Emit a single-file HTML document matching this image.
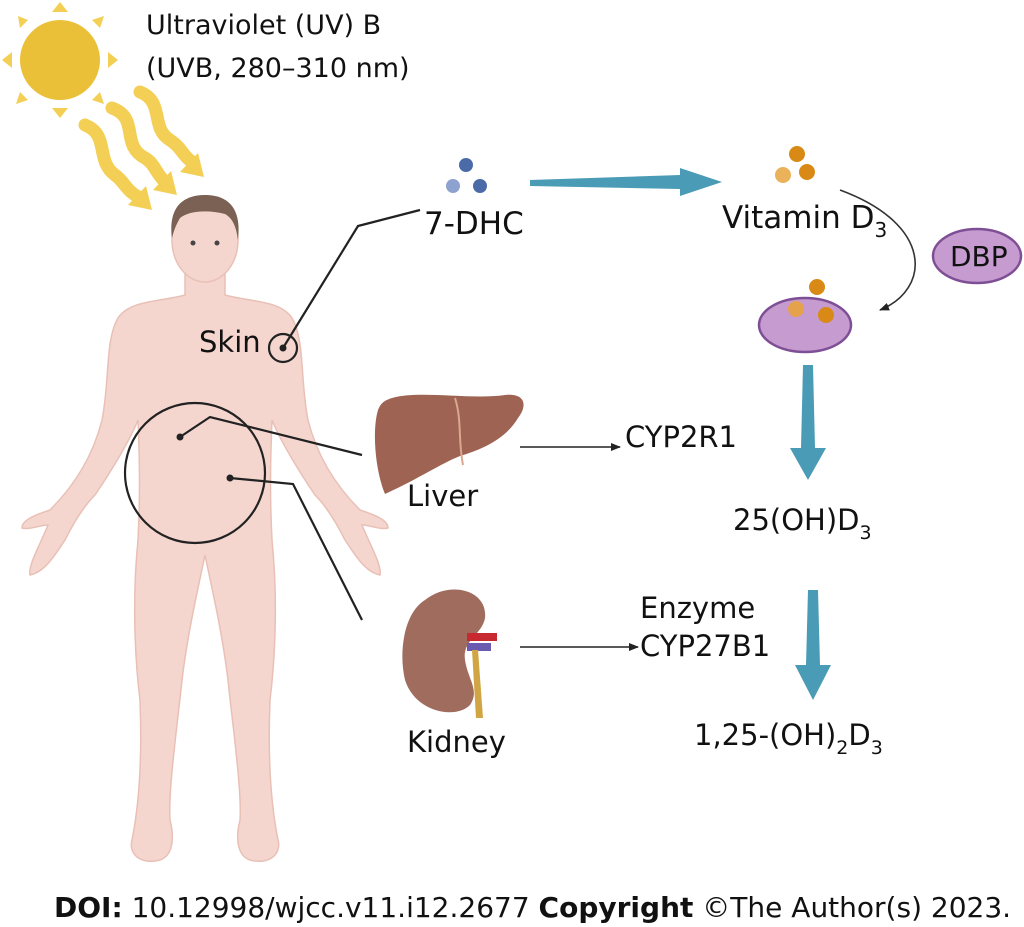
<!DOCTYPE html>
<html><head><meta charset="utf-8"><style>
html,body{margin:0;padding:0;background:#fff;}
svg{display:block;}
text{font-family:"DejaVu Sans","Liberation Sans",sans-serif;fill:#111;}
</style></head><body>
<svg width="1024" height="927" viewBox="0 0 1024 927" xmlns="http://www.w3.org/2000/svg">
<defs>
<marker id="ah" markerWidth="10" markerHeight="10" refX="9" refY="5" orient="auto" markerUnits="userSpaceOnUse"><path d="M0,1 L10,5 L0,9 Z" fill="#222"/></marker>
</defs>
<!-- sun -->
<g fill="#f3cf55">
<circle cx="60" cy="60" r="40" fill="#ebc039"/>
<polygon points="52,12 68,12 60,2"/>
<polygon points="52,108 68,108 60,118"/>
<polygon points="12,52 12,68 2,60"/>
<polygon points="108,52 108,68 118,60"/>
<polygon points="20,28 28,20 18,16" />
<polygon points="92,20 100,28 104,16"/>
<polygon points="20,92 28,100 16,104"/>
<polygon points="100,92 92,100 104,104"/>
</g>
<g fill="none" stroke="#f3cf55" stroke-width="13" stroke-linecap="round">
<path d="M85,125 C110,135 95,160 115,175 C125,182 125,190 140,198"/>
<path d="M112,108 C140,118 120,145 145,158 C155,164 155,172 165,182"/>
<path d="M140,92 C165,102 150,128 170,140 C182,148 182,155 192,162"/>
</g>
<g fill="#f3cf55">
<polygon points="128,205 152,210 146,186"/>
<polygon points="153,190 177,195 171,171"/>
<polygon points="180,172 204,177 198,153"/>
</g>
<!-- body -->
<g fill="#f4d6cf" stroke="#e9c0b6" stroke-width="1.5">
<path d="M185,265 L185,295 C160,302 130,300 118,318 C105,340 110,380 102,420 C92,460 70,490 50,510 C35,515 22,520 22,528 C30,530 40,525 48,525 C40,545 28,565 30,575 C45,572 55,555 65,540 C75,520 85,505 95,495 C112,470 130,440 138,420 C140,470 140,500 138,540 C132,600 135,660 140,700 C142,750 140,800 132,840 C128,855 142,865 160,860 C172,856 175,840 170,820 C168,790 178,720 182,680 C188,630 200,580 205,555 C210,580 222,630 228,680 C232,720 242,790 240,820 C235,840 238,856 250,860 C268,865 282,855 278,840 C270,800 268,750 270,700 C275,660 278,600 272,540 C270,500 270,470 272,420 C280,440 298,470 315,495 C325,505 335,520 345,540 C355,555 365,572 380,575 C382,565 370,545 362,525 C370,525 380,530 388,528 C388,520 375,515 360,510 C340,490 318,460 308,420 C300,380 305,340 292,318 C280,300 250,302 225,295 L225,265 Z"/>
<ellipse cx="205" cy="240" rx="33" ry="42"/>
</g>
<path d="M172,238 C168,205 185,195 205,195 C228,195 242,208 238,240 C236,225 232,218 225,214 C210,210 190,210 180,218 C176,225 174,230 172,238 Z" fill="#7a6153"/>
<circle cx="193" cy="243" r="2.5" fill="#444"/><circle cx="217" cy="243" r="2.5" fill="#444"/>
<!-- connectors -->
<g stroke="#222" stroke-width="2.2" fill="none">
<circle cx="283" cy="348" r="14"/>
<polyline points="283,348 358,226 420,210"/>
<circle cx="195" cy="473" r="70"/>
<polyline points="180,437 210,417 362,455"/>
<polyline points="230,478 293,484 362,620"/>
<line x1="520" y1="447" x2="620" y2="447" marker-end="url(#ah)" stroke-width="1.6"/>
<line x1="520" y1="647" x2="638" y2="647" marker-end="url(#ah)" stroke-width="1.6"/>
<path d="M840,190 C935,225 930,290 880,310" stroke-width="1.6" stroke="#333" marker-end="url(#ah)"/>
</g>
<circle cx="283" cy="348" r="3.5" fill="#222"/>
<circle cx="180" cy="437" r="3.5" fill="#222"/>
<circle cx="230" cy="478" r="3.5" fill="#222"/>
<!-- liver -->
<path d="M392,398 C420,390 470,400 505,395 C525,393 528,405 518,418 C505,440 480,450 460,456 C440,464 420,478 385,494 C375,470 372,430 378,410 C381,402 386,400 392,398 Z" fill="#9e6353"/>
<path d="M455,398 C462,420 458,440 463,465" stroke="#d9a88e" stroke-width="2" fill="none"/>
<!-- kidney -->
<path d="M425,600 C450,580 488,590 485,618 C482,635 462,640 465,660 C468,680 480,690 470,705 C455,720 415,712 405,680 C398,650 405,612 425,600 Z" fill="#a06c5e"/>
<rect x="467" y="633" width="30" height="8" fill="#c8282f"/>
<rect x="467" y="643" width="24" height="8" fill="#6a5ab0"/>
<path d="M472,650 L478,650 L483,718 L476,718 Z" fill="#d1a543"/>
<!-- molecules -->
<g>
<circle cx="466" cy="165" r="7" fill="#4a6aa8"/>
<circle cx="453" cy="186" r="7" fill="#8ea2cf"/>
<circle cx="480" cy="186" r="7" fill="#4a6aa8"/>
<circle cx="797" cy="154" r="8" fill="#d98a16"/>
<circle cx="783" cy="175" r="8" fill="#eab25a"/>
<circle cx="807" cy="172" r="8" fill="#d98a16"/>
</g>
<ellipse cx="977" cy="256" rx="44" ry="27" fill="#c59bd0" stroke="#7e4f94" stroke-width="2.5"/>
<ellipse cx="805" cy="325" rx="46" ry="27" fill="#c59bd0" stroke="#7e4f94" stroke-width="2.5"/>
<circle cx="817" cy="287" r="8" fill="#d98a16"/>
<circle cx="796" cy="309" r="8" fill="#e5a24a"/>
<circle cx="826" cy="315" r="8" fill="#d98a16"/>
<!-- blue arrows -->
<polygon points="530,180 680,175 680,168 722,182 680,196 680,189 530,186" fill="#4a9bb5"/>
<polygon points="803,365 813,365 815,448 826,448 808,480 790,448 801,448" fill="#4a9bb5"/>
<polygon points="808,590 818,590 820,665 831,665 813,700 795,665 806,665" fill="#4a9bb5"/>
<!-- text -->
<g font-size="29">
<text x="146" y="34" font-size="27">Ultraviolet (UV) B</text>
<text x="146" y="77" font-size="27">(UVB, 280–310 nm)</text>
<text x="424" y="234" font-size="31">7-DHC</text>
<text x="722" y="228" font-size="31">Vitamin D<tspan font-size="20" dy="9">3</tspan></text>
<text x="950" y="266" font-size="28">DBP</text>
<text x="199" y="352">Skin</text>
<text x="407" y="506">Liver</text>
<text x="625" y="447">CYP2R1</text>
<text x="733" y="530">25(OH)D<tspan font-size="19" dy="9">3</tspan></text>
<text x="640" y="618">Enzyme</text>
<text x="640" y="656">CYP27B1</text>
<text x="407" y="752">Kidney</text>
<text x="694" y="745">1,25-(OH)<tspan font-size="19" dy="9">2</tspan><tspan dy="-9">D</tspan><tspan font-size="19" dy="9">3</tspan></text>
</g>
<text x="54" y="917" font-size="28"><tspan font-weight="bold">DOI:</tspan> 10.12998/wjcc.v11.i12.2677  <tspan font-weight="bold">Copyright</tspan> ©The Author(s) 2023.</text>
</svg>
</body></html>
